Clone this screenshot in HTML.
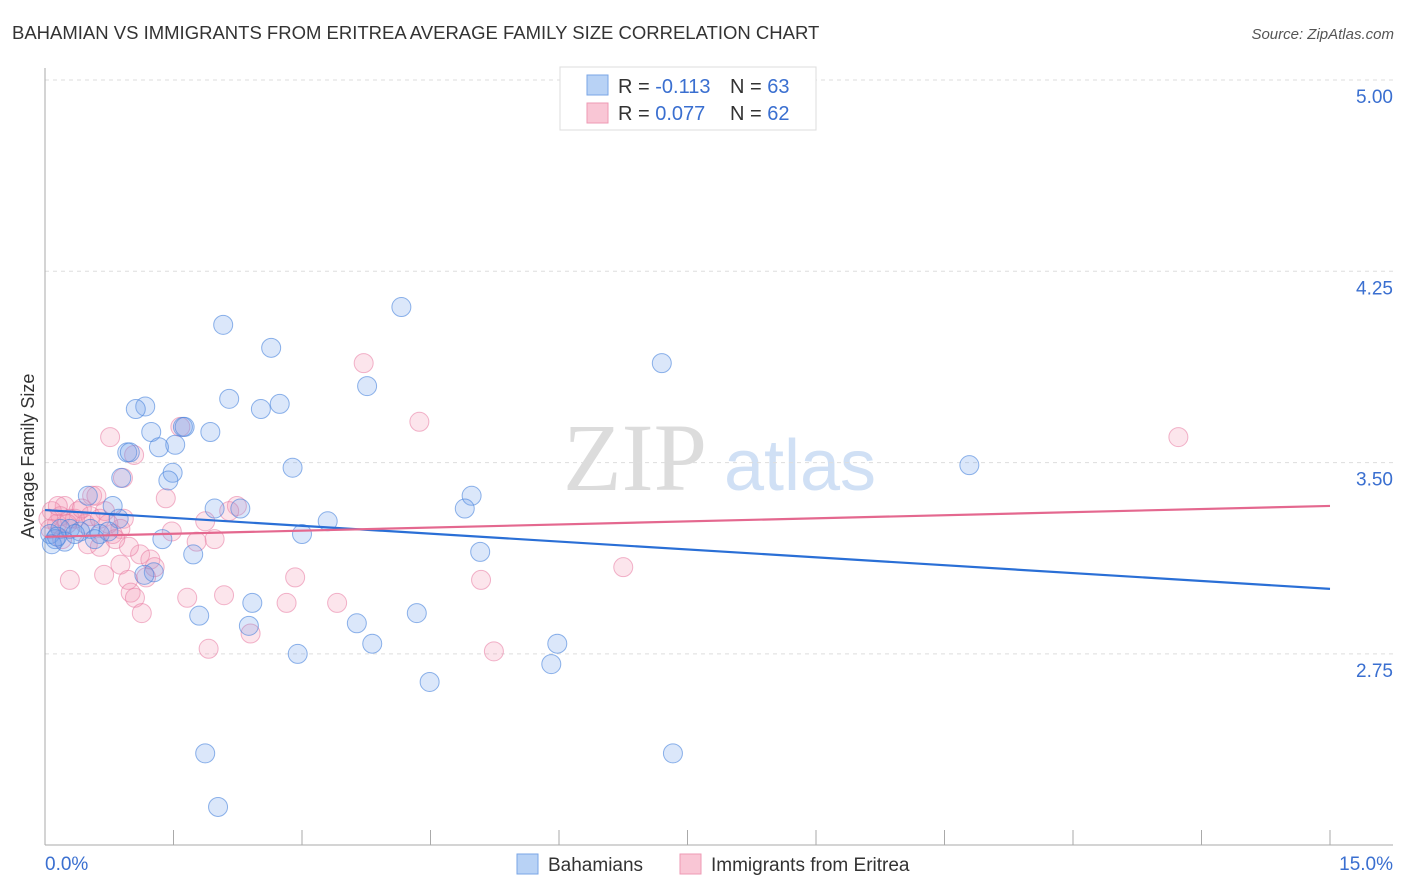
<!DOCTYPE html>
<html><head><meta charset="utf-8"><style>
body{margin:0;background:#fff;font-family:"Liberation Sans",sans-serif;}
svg{display:block}
</style></head><body>
<svg id="chart" width="1406" height="892" xmlns="http://www.w3.org/2000/svg" font-family="Liberation Sans, sans-serif">
<text x="12" y="39" font-size="18.5" fill="#333">BAHAMIAN VS IMMIGRANTS FROM ERITREA AVERAGE FAMILY SIZE CORRELATION CHART</text>
<text x="1394" y="39" font-size="15" fill="#555" text-anchor="end" font-style="italic">Source: ZipAtlas.com</text>
<g>
<text x="635" y="490" font-size="96" fill="#dcdcdc" text-anchor="middle" font-family="Liberation Serif, serif">ZIP</text>
<text x="800" y="490" font-size="72" fill="#d0e0f5" text-anchor="middle">atlas</text>
</g>
<g id="grid"></g>
<g id="axes"></g>
<g id="pts"></g>
<g id="trend"></g>
<text transform="translate(34,456) rotate(-90)" font-size="18" fill="#333" text-anchor="middle">Average Family Size</text>
<g>
<rect x="560" y="67" width="256" height="63" fill="#fff" stroke="#ddd"/>
<rect x="587" y="75" width="21" height="20" fill="#b8d2f5" stroke="#7aa6e6"/>
<rect x="587" y="103" width="21" height="20" fill="#f9c6d5" stroke="#ee9ab4"/>
<text x="618" y="93" font-size="20" fill="#333">R = <tspan fill="#3a6fd0">-0.113</tspan></text>
<text x="730" y="93" font-size="20" fill="#333">N = <tspan fill="#3a6fd0">63</tspan></text>
<text x="618" y="120" font-size="20" fill="#333">R = <tspan fill="#3a6fd0">0.077</tspan></text>
<text x="730" y="120" font-size="20" fill="#333">N = <tspan fill="#3a6fd0">62</tspan></text>
</g>
<g>
<rect x="517" y="854" width="21" height="20" fill="#b8d2f5" stroke="#7aa6e6"/>
<text x="548" y="871" font-size="19" fill="#333">Bahamians</text>
<rect x="680" y="854" width="21" height="20" fill="#f9c6d5" stroke="#ee9ab4"/>
<text x="711" y="871" font-size="19" fill="#333">Immigrants from Eritrea</text>
</g>
</svg>
<script>
const yTicks=[5.00,4.25,3.50,2.75];
const yTickLabels=["5.00","4.25","3.50","2.75"];
const xTickLabels=["0.0%","15.0%"];
const blueX=[2.08,4.16,2.64,7.20,3.76,1.17,1.06,2.15,2.74,2.52,1.24,1.61,1.63,1.93,1.52,1.33,0.96,0.99,1.49,1.44,2.89,10.79,0.89,0.50,0.79,1.98,2.28,4.98,4.90,3.30,0.86,0.53,0.18,0.06,0.12,0.23,0.29,0.41,0.64,0.74,3.00,1.37,1.73,5.08,1.27,1.16,2.42,1.80,4.34,2.38,3.64,3.82,5.98,2.95,5.91,4.49,1.87,7.33,2.02,0.08,0.58,0.35,0.14];
const blueY=[4.04,4.11,3.95,3.89,3.80,3.72,3.71,3.75,3.73,3.71,3.62,3.64,3.64,3.62,3.57,3.56,3.54,3.54,3.46,3.43,3.48,3.49,3.44,3.37,3.33,3.32,3.32,3.37,3.32,3.27,3.28,3.24,3.24,3.22,3.20,3.19,3.24,3.23,3.22,3.23,3.22,3.20,3.14,3.15,3.07,3.06,2.95,2.90,2.91,2.86,2.87,2.79,2.79,2.75,2.71,2.64,2.36,2.36,2.15,3.18,3.20,3.22,3.21];
const pinkX=[3.72,4.37,0.76,13.23,1.58,1.04,0.91,1.41,0.55,0.60,0.23,0.08,0.18,0.39,0.70,0.92,2.24,2.15,1.87,1.48,1.98,1.77,0.88,0.47,0.79,0.50,0.64,0.14,0.29,0.04,1.11,1.23,0.98,1.28,0.88,0.29,0.69,0.97,1.18,2.92,5.09,6.75,1.66,2.09,1.00,1.05,2.82,3.41,1.13,2.40,1.91,5.24,0.06,0.20,0.35,0.43,0.15,0.53,0.74,0.82,0.64,0.26];
const pinkY=[3.89,3.66,3.60,3.60,3.64,3.53,3.44,3.36,3.37,3.37,3.33,3.31,3.29,3.31,3.31,3.28,3.33,3.31,3.27,3.23,3.20,3.19,3.24,3.26,3.22,3.18,3.17,3.26,3.28,3.28,3.14,3.12,3.17,3.09,3.10,3.04,3.06,3.04,3.05,3.05,3.04,3.09,2.97,2.98,2.99,2.97,2.95,2.95,2.91,2.83,2.77,2.76,3.24,3.20,3.28,3.32,3.33,3.29,3.26,3.20,3.28,3.26];
const blueTrend=[3.314,3.005];
const pinkTrend=[3.209,3.330];
const NS="http://www.w3.org/2000/svg";
const X=p=>45+p*(1285/15);
const Y=v=>80+(5-v)*(191.3/0.75);
function mk(tag,attrs,parent){const e=document.createElementNS(NS,tag);for(const k in attrs)e.setAttribute(k,attrs[k]);parent.appendChild(e);return e;}
const grid=document.getElementById('grid'),axes=document.getElementById('axes'),pts=document.getElementById('pts'),trend=document.getElementById('trend');
yTicks.forEach((v,i)=>{
 const l=mk('line',{x1:45,x2:1393,y1:Y(v),y2:Y(v),stroke:'#ddd','stroke-dasharray':'4,4'},grid);
 
 
 const t=mk('text',{x:1393,y:Y(v)+23,'font-size':19,fill:'#3a6fd0','text-anchor':'end'},axes);
 t.textContent=yTickLabels[i];
 
 
});
mk('line',{x1:45,x2:45,y1:68,y2:845,stroke:'#aaa'},axes);
mk('line',{x1:45,x2:1393,y1:845,y2:845,stroke:'#aaa'},axes);
for(let i=0;i<=10;i++){mk('line',{x1:X(i*1.5),x2:X(i*1.5),y1:830,y2:845,stroke:'#aaa'},axes);}
[[0,45,'start'],[15,1393,'end']].forEach((d,i)=>{
 const t=mk('text',{x:d[1],y:870,'font-size':19,fill:'#3a6fd0','text-anchor':d[2]},axes);
 t.textContent=xTickLabels[i];
 
 
});
function dots(xs,ys,fill,stroke,name){
 xs.forEach((x,i)=>{
  const c=mk('circle',{cx:X(x),cy:Y(ys[i]),r:9.5,fill:fill,stroke:stroke,'stroke-width':1},pts);
  
  
 });
}
dots(pinkX,pinkY,'rgba(244,150,180,0.25)','rgba(232,120,160,0.55)','eritrea-point');
dots(blueX,blueY,'rgba(110,160,235,0.25)','rgba(70,130,220,0.6)','bahamian-point');
const bl=mk('line',{x1:X(0),x2:X(15),y1:Y(blueTrend[0]),y2:Y(blueTrend[1]),stroke:'#2a6fd6','stroke-width':2.2},trend);


const pl=mk('line',{x1:X(0),x2:X(15),y1:Y(pinkTrend[0]),y2:Y(pinkTrend[1]),stroke:'#e4688f','stroke-width':2.2},trend);


</script>
</body></html>
